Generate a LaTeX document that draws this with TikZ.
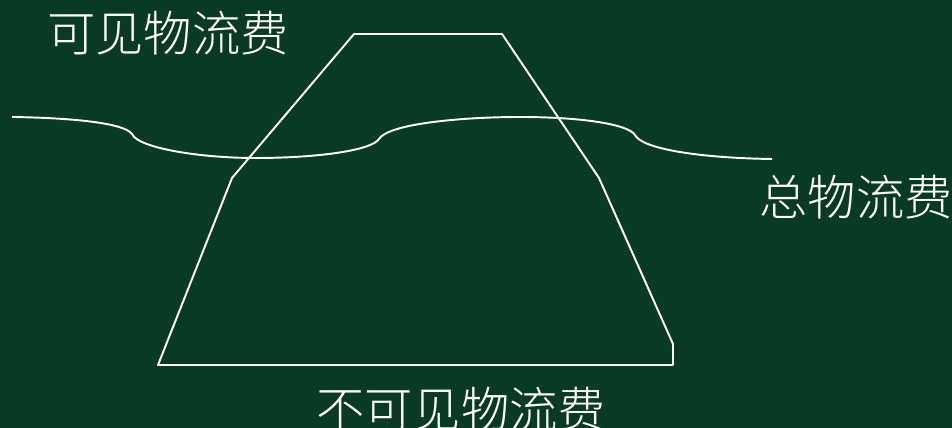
\documentclass[tikz,border=0pt]{standalone}
\usepackage{fontspec}
\newfontfamily\cjk{Noto Sans CJK SC Light}
\definecolor{board}{RGB}{8,58,36}
\begin{document}
\begin{tikzpicture}[x=0.02cm,y=-0.02cm,line width=1.1pt,
  lbl/.style={text=white,font=\cjk\fontsize{27.5}{30}\selectfont,inner sep=0pt}]

\fill[board] (0,0) rectangle (952,428);
\useasboundingbox (0,0) rectangle (952,428);

\draw[white,line join=round] (158,365) -- (232,178) -- (354,34) -- (502,34) -- (599,178) -- (673,344) -- (673,365) -- cycle;

\draw[white] (12,117) .. controls (80,118) and (125,124) .. (132,134)
  .. controls (138,148) and (200,158) .. (255,158)
  .. controls (320,158) and (372,150) .. (379,139)
  .. controls (388,124) and (460,117) .. (520,117)
  .. controls (580,117) and (628,124) .. (635,135)
  .. controls (642,149) and (700,158) .. (772,159);

\node[lbl] (visible) at (168,33) {可见物流费};
\node[lbl] (total) at (856,197) {总物流费};
\node[lbl] (invisible) at (461,409) {不可见物流费};
\end{tikzpicture}
\end{document}
